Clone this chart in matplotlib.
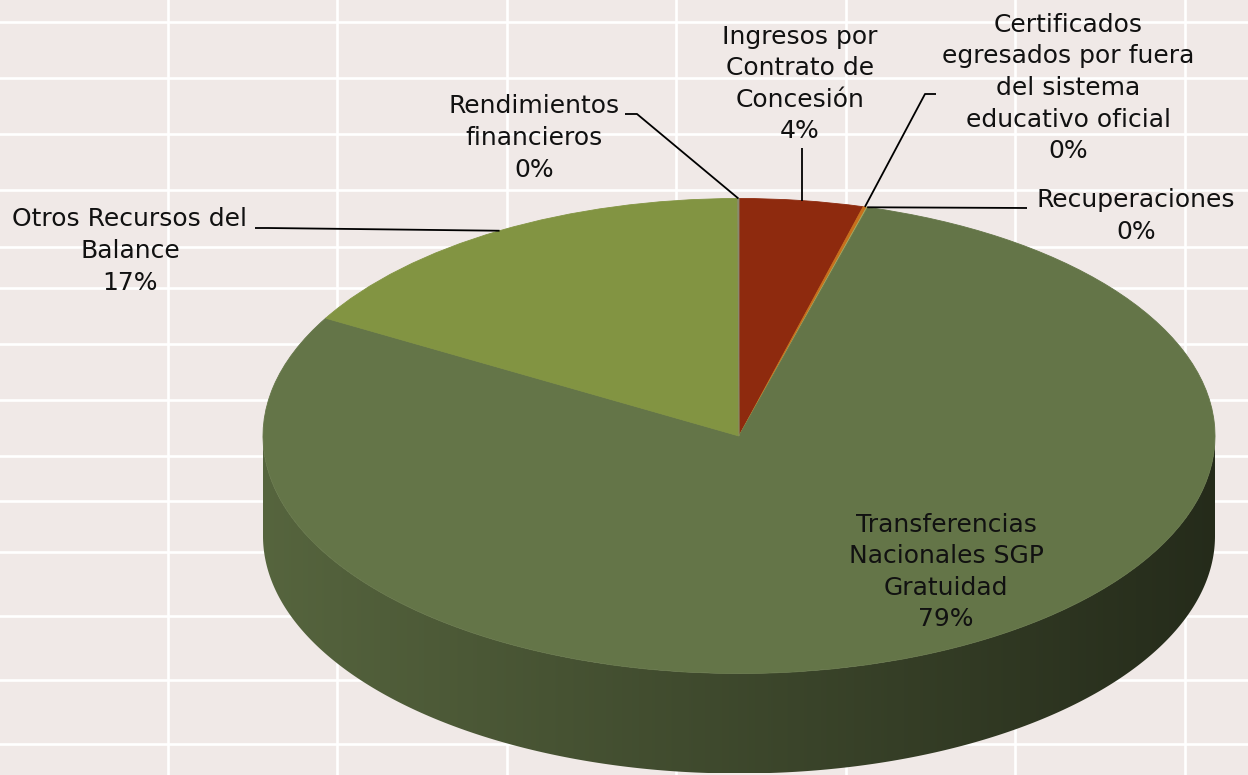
import numpy as np
import matplotlib
matplotlib.use("Agg")
import matplotlib.pyplot as plt
from matplotlib.colors import to_rgb
from matplotlib.patches import Polygon

# ---------------- data ----------------
categories = [
    "Ingresos por\nContrato de\nConcesión",
    "Certificados\negresados por fuera\ndel sistema\neducativo oficial",
    "Recuperaciones",
    "Transferencias\nNacionales SGP\nGratuidad",
    "Otros Recursos del\nBalance",
    "Rendimientos\nfinancieros",
]
values = [4.2, 0.12, 0.04, 78.9, 16.7, 0.04]
colors = ["#8E2A0E", "#C8701C", "#A4A85E", "#647548", "#829442", "#8A8A70"]

# ---------------- layout ----------------
W, H = 1248, 775
BG = "#F0E9E7"
grid_x = [168, 337, 507, 676, 846, 1015, 1185]
grid_y = [22, 78, 134, 190, 247, 288, 344, 400, 456, 501, 552, 616, 680, 744]

cx, cy, a, b, depth = 739, 436, 476, 237.5, 100

fig = plt.figure(figsize=(W / 100, H / 100), dpi=100)
fig.patch.set_facecolor(BG)

bg = fig.add_axes([0, 0, 1, 1], zorder=0)
bg.set_xlim(0, W)
bg.set_ylim(H, 0)
bg.axis("off")
for x in grid_x:
    bg.axvline(x, color="white", lw=1.9)
for y in grid_y:
    bg.axhline(y, color="white", lw=1.9)

# pie axes: unit circle stretched into the ellipse by the axes scaling
d = depth / b
top_px = cy - b
bot_px = cy + b + depth
axp = fig.add_axes([(cx - a) / W, (H - bot_px) / H, 2 * a / W, (bot_px - top_px) / H], zorder=1)
axp.patch.set_alpha(0)
wedges, _ = axp.pie(values, colors=colors, startangle=90, counterclock=False, radius=1,
                    wedgeprops=dict(linewidth=0.6, antialiased=True))
for w, c in zip(wedges, colors):
    w.set_edgecolor(c)
    w.set_zorder(3)

# side of the cylinder (front half), gradient clipped to each wedge's side
fl, fr = 0.86, 0.37
ncol = 400
xs = np.linspace(-1, 1, ncol)
fac = fl + (fr - fl) * (xs + 1) / 2
for w, c in zip(wedges, colors):
    t1, t2 = w.theta1, w.theta2
    for k in (-1, 0, 1):
        lo = max(t1, 180 + 360 * k)
        hi = min(t2, 360 + 360 * k)
        if hi <= lo:
            continue
        t = np.radians(np.linspace(lo, hi, 300))
        top = np.column_stack([np.cos(t), np.sin(t)])
        bot = np.column_stack([np.cos(t[::-1]), np.sin(t[::-1]) - d])
        poly = Polygon(np.vstack([top, bot]), closed=True, facecolor="none", edgecolor="none")
        axp.add_patch(poly)
        rgb = np.array(to_rgb(c))
        img = (fac[:, None] * rgb[None, :])[None, :, :]
        im = axp.imshow(img, extent=(-1, 1, -1 - d, 0.02), aspect="auto", zorder=2,
                        interpolation="bilinear")
        im.set_clip_path(poly)

axp.set_aspect("auto")
axp.set_xlim(-1, 1)
axp.set_ylim(-1 - d, 1)
axp.axis("off")

# ---------------- labels ----------------
fg = fig.add_axes([0, 0, 1, 1], zorder=5)
fg.patch.set_alpha(0)
fg.set_xlim(0, W)
fg.set_ylim(H, 0)
fg.axis("off")

total = sum(values)
label_pos = [(800, 84), (1068, 88), (1136, 216), (946, 572), (130, 251), (534, 138)]
elbows = [None, [(936, 94), (925, 94)], [(1027, 208)], [], [(255, 228), (268, 228)],
          [(625, 114), (637, 114)]]


def rim_point(w):
    tm = np.radians((w.theta1 + w.theta2) / 2)
    disp = axp.transData.transform((np.cos(tm), np.sin(tm)))
    return fg.transData.inverted().transform(disp)


for i, (cat, v, w) in enumerate(zip(categories, values, wedges)):
    txt = f"{cat}\n{v / total * 100:.0f}%"
    fg.text(label_pos[i][0], label_pos[i][1], txt, ha="center", va="center",
            multialignment="center", fontsize=18, color="#111111", linespacing=1.4,
            family="DejaVu Sans")
    rp = rim_point(w)
    if elbows[i] is None:
        pts = [(rp[0], 148), tuple(rp)]
    elif len(elbows[i]) == 0:
        continue
    else:
        pts = list(elbows[i]) + [tuple(rp)]
    px = [p[0] for p in pts]
    py = [p[1] for p in pts]
    fg.plot(px, py, color="black", lw=1.3, solid_capstyle="butt")

fig.savefig("out.png", dpi=100, facecolor=BG)
